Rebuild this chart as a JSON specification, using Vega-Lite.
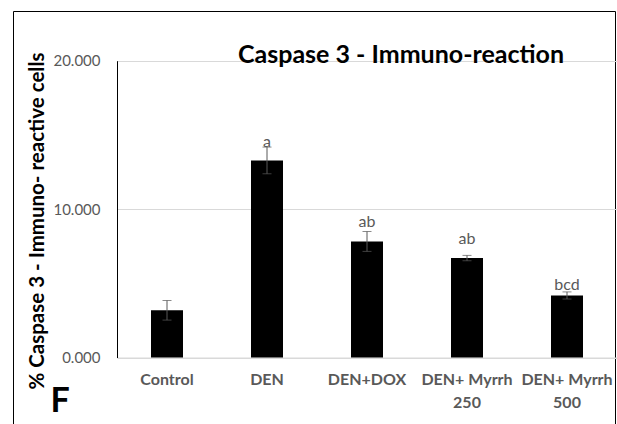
{
  "$schema": "https://vega.github.io/schema/vega-lite/v6.json",
  "width": 602,
  "height": 413.5,
  "autosize": {"type": "none"},
  "padding": {"left": 13, "top": 11, "right": 2, "bottom": 0},
  "background": "#ffffff",
  "config": {
    "view": {"stroke": "#000000", "strokeWidth": 1},
    "font": "Lato"
  },
  "title": {
    "text": "Caspase 3 - Immuno-reaction",
    "font": "Lato",
    "fontSize": 25,
    "fontWeight": "bold",
    "color": "#000000",
    "anchor": "start",
    "frame": "group",
    "baseline": "alphabetic",
    "offset": 0,
    "dx": 225,
    "dy": 77
  },
  "data": {
    "values": [
      {"group": "Control", "mean": 3.18, "err": 0.66, "sig": "", "sig_y": 4.2},
      {"group": "DEN", "mean": 13.28, "err": 0.9, "sig": "a", "sig_y": 14.2},
      {"group": "DEN+DOX", "mean": 7.82, "err": 0.67, "sig": "ab", "sig_y": 8.79},
      {"group": "DEN+ Myrrh 250", "mean": 6.7, "err": 0.18, "sig": "ab", "sig_y": 7.64},
      {"group": "DEN+ Myrrh 500", "mean": 4.18, "err": 0.24, "sig": "bcd", "sig_y": 4.55}
    ]
  },
  "encoding": {
    "x": {
      "field": "group",
      "type": "nominal",
      "sort": null,
      "scale": {"range": [104, 604], "paddingInner": 0.68, "paddingOuter": 0.34},
      "axis": {
        "orient": "bottom",
        "offset": -67,
        "domainColor": "#d9d9d9",
        "domainWidth": 1,
        "ticks": false,
        "labelAngle": 0,
        "labelColor": "#595959",
        "labelFont": "Lato",
        "labelFontSize": 16,
        "labelFontWeight": "bold",
        "labelPadding": 14,
        "labelLineHeight": 23,
        "labelExpr": "indexof(datum.label, 'Myrrh') >= 0 ? [slice(datum.label, 0, 10), slice(datum.label, 11)] : datum.label",
        "title": "F",
        "titleFont": "Lato",
        "titleFontSize": 34,
        "titleFontWeight": "bold",
        "titleColor": "#000000",
        "titleAnchor": "start",
        "titleAlign": "left",
        "titleBaseline": "alphabetic",
        "titleX": 37,
        "titleY": 53.5
      }
    }
  },
  "layer": [
    {
      "mark": {"type": "bar", "color": "#000000"},
      "encoding": {
        "y": {
          "field": "mean",
          "type": "quantitative",
          "title": "% Caspase 3 - Immuno- reactive cells",
          "scale": {"domain": [0, 20], "range": [346.5, 49.7], "nice": false},
          "axis": {
            "orient": "left",
            "offset": -104,
            "values": [0, 10, 20],
            "format": ".3f",
            "grid": true,
            "gridColor": "#d9d9d9",
            "gridWidth": 1,
            "ticks": false,
            "domainColor": "#000000",
            "domainWidth": 1,
            "labelColor": "#595959",
            "labelFont": "Lato",
            "labelFontSize": 15,
            "labelPadding": 17,
            "title": "% Caspase 3 - Immuno- reactive cells",
            "titleFont": "Lato",
            "titleFontSize": 20.5,
            "titleFontWeight": "bold",
            "titleColor": "#000000",
            "titleAngle": -90,
            "titleAlign": "center",
            "titleBaseline": "bottom",
            "titleX": -70,
            "titleY": 209.5
          }
        }
      }
    },
    {
      "mark": {"type": "errorbar", "color": "#595959", "thickness": 1, "ticks": {"size": 9, "thickness": 1}},
      "encoding": {
        "y": {"field": "mean", "type": "quantitative", "title": "% Caspase 3 - Immuno- reactive cells"},
        "yError": {"field": "err"}
      }
    },
    {
      "mark": {"type": "text", "baseline": "alphabetic", "align": "center", "font": "Lato", "fontSize": 16, "color": "#595959"},
      "encoding": {
        "y": {"field": "sig_y", "type": "quantitative", "title": "% Caspase 3 - Immuno- reactive cells"},
        "text": {"field": "sig"}
      }
    }
  ]
}
